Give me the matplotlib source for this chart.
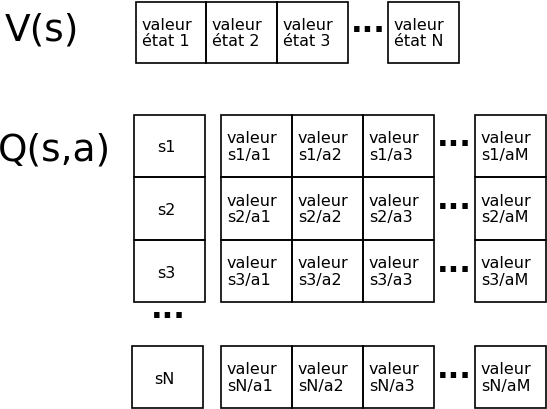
import matplotlib
matplotlib.use("Agg")
import matplotlib.pyplot as plt
from matplotlib.patches import Rectangle

v_labels = ["valeur\nétat 1", "valeur\nétat 2", "valeur\nétat 3", None, "valeur\nétat N"]
states = ["s1", "s2", "s3", None, "sN"]
actions = ["a1", "a2", "a3", None, "aM"]

fig = plt.figure(figsize=(5.47, 4.09), dpi=100)
ax = fig.add_axes([0, 0, 1, 1])
ax.set_xlim(0, 547); ax.set_ylim(409, 0); ax.axis("off")

def box(x0, y0, x1, y1, text, left=True):
    ax.add_patch(Rectangle((x0, y0), x1 - x0, y1 - y0, fill=False, lw=1.2, ec="black"))
    if left:
        ax.text(x0 + 6, (y0 + y1) / 2 + 1, text, ha="left", va="center", fontsize=11.5, linespacing=1.15)
    else:
        ax.text((x0 + x1) / 2 - 3, (y0 + y1) / 2 + 2, text, ha="center", va="center", fontsize=11.5)

def dots(x, y):
    ax.text(x, y, "...", ha="center", va="center", fontsize=22, fontweight="bold")

ax.text(5, 30, "V(s)", ha="left", va="center", fontsize=27)
ax.text(-2, 150, "Q(s,a)", ha="left", va="center", fontsize=27)

vx = [(136, 206), (206, 277), (277, 348), (348, 388), (388, 459)]
for (x0, x1), lab in zip(vx, v_labels):
    if lab is None:
        dots((x0 + x1) / 2, 24)
    else:
        box(x0, 2, x1, 63, lab)

rows = [(115, 177), (177, 240), (240, 302), (302, 346), (346, 408)]
cols = [(221, 292), (292, 363), (363, 434), (434, 475), (475, 546)]
for (y0, y1), s in zip(rows, states):
    if s is None:
        dots(168, 310)
        continue
    sx = (132, 203) if s == "sN" else (134, 205)
    box(sx[0], y0, sx[1], y1, s, left=False)
    for (x0, x1), a in zip(cols, actions):
        if a is None:
            dots((x0 + x1) / 2, (y0 + y1) / 2 - 8)
        else:
            box(x0, y0, x1, y1, f"valeur\n{s}/{a}")

fig.savefig("out.png", dpi=100)
